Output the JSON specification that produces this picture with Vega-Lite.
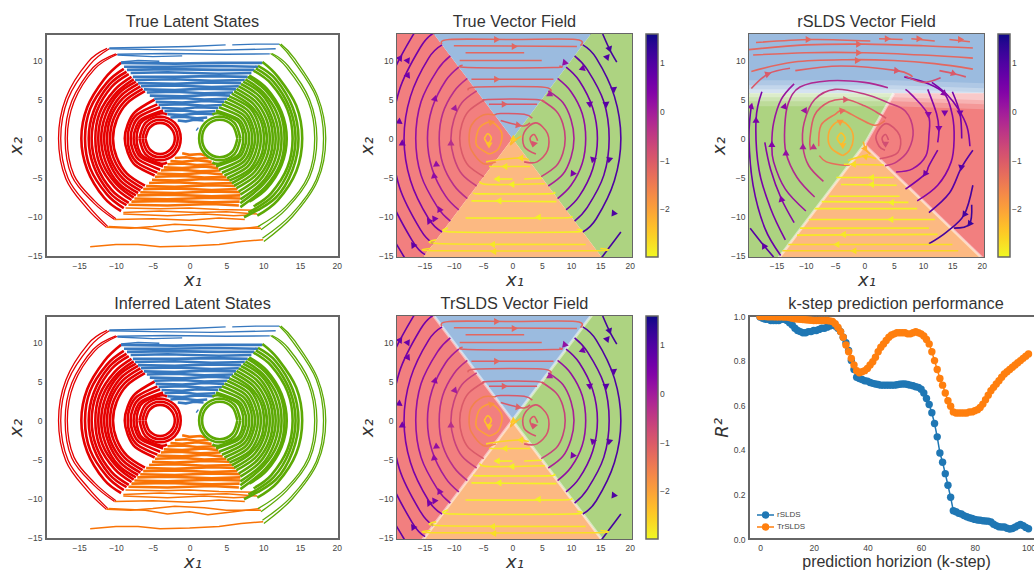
{"$schema":"https://vega.github.io/schema/vega-lite/v6.json","padding":{"left":6,"top":12,"right":0,"bottom":0},"background":"white",
"config":{"view":{"stroke":"#666666","strokeWidth":2},"font":"Liberation Sans","title":{"fontSize":16.3,"font":"Liberation Sans","fontWeight":"normal","color":"#333333","offset":4},"axis":{"grid":false,"domain":false,"ticks":false,"labelFontSize":8.5,"labelColor":"#444444","labelPadding":4,"titleColor":"#333333","titleFontWeight":"normal","titleFont":"DejaVu Sans","titleFontStyle":"italic","titleFontSize":18,"titlePadding":2,"labelFont":"Liberation Sans"}},
"datasets":{
"red":[{"i":1,"x":-6,"y":0},{"i":1,"x":-5.4,"y":1.4},{"i":1,"x":-4,"y":2},{"i":1,"x":-2.6,"y":1.4},{"i":1,"x":-2,"y":0},{"i":1,"x":-2.6,"y":-1.4},{"i":1,"x":-4,"y":-2},{"i":1,"x":-5.4,"y":-1.4},{"i":1,"x":-6,"y":0},
{"i":2,"x":-6.4,"y":0},{"i":2,"x":-5.7,"y":1.7},{"i":2,"x":-4,"y":2.4},{"i":2,"x":-2.3,"y":1.7},{"i":2,"x":-1.6,"y":0},{"i":2,"x":-2.3,"y":-1.7},{"i":2,"x":-4,"y":-2.4},{"i":2,"x":-5.7,"y":-1.7},{"i":2,"x":-6.4,"y":0},
{"i":3,"x":-6.8,"y":0},{"i":3,"x":-6,"y":2},{"i":3,"x":-4,"y":2.8},{"i":3,"x":-2,"y":2},{"i":3,"x":-1.2,"y":0},{"i":3,"x":-2,"y":-2},{"i":3,"x":-4,"y":-2.8},{"i":3,"x":-6,"y":-2},{"i":3,"x":-6.8,"y":0},
{"i":4,"x":-3.06,"y":-3.06},{"i":4,"x":-4,"y":-3.2},{"i":4,"x":-6.3,"y":-2.3},{"i":4,"x":-7,"y":-1.2},{"i":4,"x":-7.2,"y":0},{"i":4,"x":-7,"y":1.2},{"i":4,"x":-6.3,"y":2.3},{"i":4,"x":-4,"y":3.2},{"i":4,"x":-3.06,"y":3.06},
{"i":5,"x":-3.6,"y":-3.6},{"i":5,"x":-6.5,"y":-2.5},{"i":5,"x":-7.3,"y":-1.35},{"i":5,"x":-7.6,"y":0},{"i":5,"x":-7.3,"y":1.35},{"i":5,"x":-6.5,"y":2.5},{"i":5,"x":-3.6,"y":3.6},
{"i":6,"x":-4,"y":-4},{"i":6,"x":-6.8,"y":-2.8},{"i":6,"x":-7.7,"y":-1.5},{"i":6,"x":-8,"y":0},{"i":6,"x":-7.7,"y":1.5},{"i":6,"x":-6.8,"y":2.8},{"i":6,"x":-4,"y":4},
{"i":7,"x":-4.38,"y":-4.38},{"i":7,"x":-7.1,"y":-3.1},{"i":7,"x":-8.1,"y":-1.65},{"i":7,"x":-8.4,"y":0},{"i":7,"x":-8.1,"y":1.65},{"i":7,"x":-7.1,"y":3.1},{"i":7,"x":-4.38,"y":4.38},
{"i":8,"x":-4.74,"y":-4.74},{"i":8,"x":-7.4,"y":-3.4},{"i":8,"x":-8.4,"y":-1.8},{"i":8,"x":-8.8,"y":0},{"i":8,"x":-8.4,"y":1.8},{"i":8,"x":-7.4,"y":3.4},{"i":8,"x":-4.74,"y":5},
{"i":9,"x":-6.06,"y":-6.06},{"i":9,"x":-8.5,"y":-4.5},{"i":9,"x":-9.9,"y":-2.4},{"i":9,"x":-10.4,"y":0},{"i":9,"x":-9.9,"y":2.4},{"i":9,"x":-8.5,"y":4.5},{"i":9,"x":-6.06,"y":6.06},
{"i":10,"x":-6.37,"y":-6.37},{"i":10,"x":-8.8,"y":-4.8},{"i":10,"x":-10.3,"y":-2.55},{"i":10,"x":-10.8,"y":0},{"i":10,"x":-10.3,"y":2.55},{"i":10,"x":-8.8,"y":4.8},{"i":10,"x":-6.37,"y":6.37},
{"i":11,"x":-6.68,"y":-6.68},{"i":11,"x":-9.1,"y":-5.1},{"i":11,"x":-10.7,"y":-2.7},{"i":11,"x":-11.2,"y":0},{"i":11,"x":-10.7,"y":2.7},{"i":11,"x":-9.1,"y":5.1},{"i":11,"x":-6.68,"y":6.68},
{"i":12,"x":-6.99,"y":-6.99},{"i":12,"x":-9.4,"y":-5.4},{"i":12,"x":-11,"y":-2.85},{"i":12,"x":-11.6,"y":0},{"i":12,"x":-11,"y":2.85},{"i":12,"x":-9.4,"y":5.4},{"i":12,"x":-6.99,"y":6.99},
{"i":13,"x":-7.29,"y":-7.29},{"i":13,"x":-9.7,"y":-5.7},{"i":13,"x":-11.4,"y":-3},{"i":13,"x":-12,"y":0},{"i":13,"x":-11.4,"y":3},{"i":13,"x":-9.7,"y":5.7},{"i":13,"x":-7.29,"y":7.29},
{"i":14,"x":-7.59,"y":-7.59},{"i":14,"x":-9.9,"y":-5.9},{"i":14,"x":-11.8,"y":-3.15},{"i":14,"x":-12.4,"y":0},{"i":14,"x":-11.8,"y":3.15},{"i":14,"x":-9.9,"y":5.9},{"i":14,"x":-7.59,"y":7.59},
{"i":15,"x":-7.89,"y":-7.89},{"i":15,"x":-10.2,"y":-6.2},{"i":15,"x":-12.2,"y":-3.3},{"i":15,"x":-12.8,"y":0},{"i":15,"x":-12.2,"y":3.3},{"i":15,"x":-10.2,"y":6.2},{"i":15,"x":-7.89,"y":7.89},
{"i":16,"x":-8.26,"y":-8.26},{"i":16,"x":-10.6,"y":-6.6},{"i":16,"x":-12.6,"y":-3.5},{"i":16,"x":-13.3,"y":0},{"i":16,"x":-12.6,"y":3.5},{"i":16,"x":-10.6,"y":6.6},{"i":16,"x":-8.26,"y":8.26},
{"i":17,"x":-8.56,"y":-8.56},{"i":17,"x":-10.9,"y":-6.9},{"i":17,"x":-13,"y":-3.6},{"i":17,"x":-13.7,"y":0},{"i":17,"x":-13,"y":3.6},{"i":17,"x":-10.9,"y":6.9},{"i":17,"x":-8.56,"y":8.56},
{"i":18,"x":-8.93,"y":-8.93},{"i":18,"x":-11.2,"y":-7.2},{"i":18,"x":-13.5,"y":-3.8},{"i":18,"x":-14.2,"y":0},{"i":18,"x":-13.5,"y":3.8},{"i":18,"x":-11.2,"y":7.2},{"i":18,"x":-8.93,"y":8.93},
{"i":19,"x":-9.3,"y":-9.3},{"i":19,"x":-11.6,"y":-7.6},{"i":19,"x":-13.9,"y":-4},{"i":19,"x":-14.7,"y":0},{"i":19,"x":-13.9,"y":4},{"i":19,"x":-11.6,"y":7.6},{"i":19,"x":-9.3,"y":9.7},
{"i":20,"x":-10,"y":-10.3},{"i":20,"x":-12.9,"y":-8},{"i":20,"x":-15.7,"y":-4.7},{"i":20,"x":-16.6,"y":0},{"i":20,"x":-15.7,"y":4.7},{"i":20,"x":-12.9,"y":8.9},{"i":20,"x":-9.8,"y":10.8},
{"i":21,"x":-10.2,"y":-10.4},{"i":21,"x":-13.1,"y":-8.2},{"i":21,"x":-16,"y":-4.8},{"i":21,"x":-16.9,"y":0},{"i":21,"x":-16,"y":4.8},{"i":21,"x":-13.1,"y":9.1},{"i":21,"x":-10,"y":10.85},
{"i":22,"x":-11.1,"y":-11.3},{"i":22,"x":-13.7,"y":-8.7},{"i":22,"x":-16.5,"y":-5.1},{"i":22,"x":-17.5,"y":0},{"i":22,"x":-16.5,"y":5.1},{"i":22,"x":-13.5,"y":9.5},{"i":22,"x":-10.9,"y":11.5},
{"i":23,"x":-11.3,"y":-11.4},{"i":23,"x":-14,"y":-8.9},{"i":23,"x":-16.8,"y":-5.2},{"i":23,"x":-17.8,"y":0},{"i":23,"x":-16.8,"y":5.2},{"i":23,"x":-13.8,"y":9.8},{"i":23,"x":-11.2,"y":11.55}],
"green":[{"i":1,"x":6.5,"y":0},{"i":1,"x":5.8,"y":1.7},{"i":1,"x":4.1,"y":2.4},{"i":1,"x":2.4,"y":1.7},{"i":1,"x":1.7,"y":0},{"i":1,"x":2.4,"y":-1.7},{"i":1,"x":4.1,"y":-2.4},{"i":1,"x":5.8,"y":-1.7},{"i":1,"x":6.5,"y":0},
{"i":2,"x":6.9,"y":0},{"i":2,"x":6.1,"y":2},{"i":2,"x":4.1,"y":2.8},{"i":2,"x":2.1,"y":2},{"i":2,"x":1.3,"y":0},{"i":2,"x":2.1,"y":-2},{"i":2,"x":4.1,"y":-2.8},{"i":2,"x":6.1,"y":-2},{"i":2,"x":6.9,"y":0},
{"i":3,"x":3.1,"y":-3.06},{"i":3,"x":4.1,"y":-3.2},{"i":3,"x":6.4,"y":-2.3},{"i":3,"x":7.1,"y":-1.2},{"i":3,"x":7.3,"y":0},{"i":3,"x":7.1,"y":1.2},{"i":3,"x":6.4,"y":2.3},{"i":3,"x":4.1,"y":3.2},{"i":3,"x":3.1,"y":3.06},
{"i":4,"x":3.6,"y":-3.6},{"i":4,"x":6.6,"y":-2.5},{"i":4,"x":7.4,"y":-1.35},{"i":4,"x":7.7,"y":0},{"i":4,"x":7.4,"y":1.35},{"i":4,"x":6.6,"y":2.5},{"i":4,"x":3.6,"y":3.6},
{"i":5,"x":4,"y":-4},{"i":5,"x":6.9,"y":-2.8},{"i":5,"x":7.8,"y":-1.5},{"i":5,"x":8.1,"y":0},{"i":5,"x":7.8,"y":1.5},{"i":5,"x":6.9,"y":2.8},{"i":5,"x":4,"y":4},
{"i":6,"x":4.4,"y":-4.4},{"i":6,"x":7.2,"y":-3.1},{"i":6,"x":8.2,"y":-1.65},{"i":6,"x":8.5,"y":0},{"i":6,"x":8.2,"y":1.65},{"i":6,"x":7.2,"y":3.1},{"i":6,"x":4.4,"y":4.4},
{"i":7,"x":4.74,"y":-4.74},{"i":7,"x":7.5,"y":-3.4},{"i":7,"x":8.5,"y":-1.8},{"i":7,"x":8.9,"y":0},{"i":7,"x":8.5,"y":1.8},{"i":7,"x":7.5,"y":3.4},{"i":7,"x":4.74,"y":4.74},
{"i":8,"x":5.1,"y":-5.1},{"i":8,"x":7.8,"y":-3.7},{"i":8,"x":8.9,"y":-1.95},{"i":8,"x":9.3,"y":0},{"i":8,"x":8.9,"y":1.95},{"i":8,"x":7.8,"y":3.7},{"i":8,"x":5.1,"y":5.1},
{"i":9,"x":5.4,"y":-5.4},{"i":9,"x":8.1,"y":-4},{"i":9,"x":9.3,"y":-2.1},{"i":9,"x":9.7,"y":0},{"i":9,"x":9.3,"y":2.1},{"i":9,"x":8.1,"y":4},{"i":9,"x":5.4,"y":5.4},
{"i":10,"x":5.74,"y":-5.74},{"i":10,"x":8.3,"y":-4.2},{"i":10,"x":9.7,"y":-2.25},{"i":10,"x":10.1,"y":0},{"i":10,"x":9.7,"y":2.25},{"i":10,"x":8.3,"y":4.2},{"i":10,"x":5.74,"y":5.74},
{"i":11,"x":6.06,"y":-6.06},{"i":11,"x":8.6,"y":-4.5},{"i":11,"x":10,"y":-2.4},{"i":11,"x":10.5,"y":0},{"i":11,"x":10,"y":2.4},{"i":11,"x":8.6,"y":4.5},{"i":11,"x":6.06,"y":6.06},
{"i":12,"x":6.37,"y":-6.37},{"i":12,"x":8.9,"y":-4.8},{"i":12,"x":10.4,"y":-2.55},{"i":12,"x":10.9,"y":0},{"i":12,"x":10.4,"y":2.55},{"i":12,"x":8.9,"y":4.8},{"i":12,"x":6.37,"y":6.37},
{"i":13,"x":6.68,"y":-6.8},{"i":13,"x":9.2,"y":-5.1},{"i":13,"x":10.8,"y":-2.7},{"i":13,"x":11.3,"y":0},{"i":13,"x":10.8,"y":2.7},{"i":13,"x":9.2,"y":5.1},{"i":13,"x":6.68,"y":6.68},
{"i":14,"x":6.9,"y":-7.2},{"i":14,"x":9.5,"y":-5.4},{"i":14,"x":11.1,"y":-2.85},{"i":14,"x":11.7,"y":0},{"i":14,"x":11.1,"y":2.85},{"i":14,"x":9.5,"y":5.4},{"i":14,"x":6.99,"y":6.99},
{"i":15,"x":6.9,"y":-7.8},{"i":15,"x":9.8,"y":-5.7},{"i":15,"x":11.5,"y":-3},{"i":15,"x":12.1,"y":0},{"i":15,"x":11.5,"y":3},{"i":15,"x":9.8,"y":5.7},{"i":15,"x":7.29,"y":7.29},
{"i":16,"x":6.9,"y":-8.3},{"i":16,"x":10,"y":-5.9},{"i":16,"x":11.9,"y":-3.15},{"i":16,"x":12.5,"y":0},{"i":16,"x":11.9,"y":3.15},{"i":16,"x":10,"y":5.9},{"i":16,"x":7.59,"y":7.59},
{"i":17,"x":6.9,"y":-8.8},{"i":17,"x":10.3,"y":-6.2},{"i":17,"x":12.3,"y":-3.3},{"i":17,"x":12.9,"y":0},{"i":17,"x":12.3,"y":3.3},{"i":17,"x":10.3,"y":6.2},{"i":17,"x":7.89,"y":7.89},
{"i":18,"x":8.1,"y":-8.1},{"i":18,"x":10.5,"y":-6.4},{"i":18,"x":12.5,"y":-3.4},{"i":18,"x":13.2,"y":0},{"i":18,"x":12.5,"y":3.4},{"i":18,"x":10.5,"y":6.4},{"i":18,"x":8.1,"y":8.1},
{"i":19,"x":8.7,"y":-8.7},{"i":19,"x":11.1,"y":-7},{"i":19,"x":13.3,"y":-3.7},{"i":19,"x":14,"y":0},{"i":19,"x":13.3,"y":3.7},{"i":19,"x":11.1,"y":7},{"i":19,"x":8.7,"y":8.7},
{"i":20,"x":8,"y":-9.5},{"i":20,"x":11.4,"y":-7.3},{"i":20,"x":13.6,"y":-3.9},{"i":20,"x":14.4,"y":0},{"i":20,"x":13.6,"y":3.9},{"i":20,"x":11.4,"y":7.3},{"i":20,"x":9,"y":9},
{"i":21,"x":7.4,"y":-10.1},{"i":21,"x":11.7,"y":-7.6},{"i":21,"x":14,"y":-4},{"i":21,"x":14.8,"y":0},{"i":21,"x":14,"y":4},{"i":21,"x":11.7,"y":7.6},{"i":21,"x":9.3,"y":9.3},
{"i":22,"x":9.2,"y":-9.9},{"i":22,"x":12,"y":-7.9},{"i":22,"x":14.5,"y":-4.2},{"i":22,"x":15.3,"y":0},{"i":22,"x":14.5,"y":4.2},{"i":22,"x":12,"y":7.9},{"i":22,"x":9.9,"y":9.8},
{"i":23,"x":9.3,"y":-11.3},{"i":23,"x":13,"y":-8.8},{"i":23,"x":16.1,"y":-4.8},{"i":23,"x":17,"y":0},{"i":23,"x":16.1,"y":4.8},{"i":23,"x":13.2,"y":9.1},{"i":23,"x":11,"y":10.9},
{"i":24,"x":9.7,"y":-11.7},{"i":24,"x":13.2,"y":-9},{"i":24,"x":16.3,"y":-5},{"i":24,"x":17.3,"y":0},{"i":24,"x":16.3,"y":5},{"i":24,"x":13.4,"y":9.3},{"i":24,"x":11.2,"y":10.9},
{"i":25,"x":9.9,"y":-12.8},{"i":25,"x":13.8,"y":-9.8},{"i":25,"x":17.2,"y":-5.3},{"i":25,"x":18.2,"y":0},{"i":25,"x":17.2,"y":5.3},{"i":25,"x":14.1,"y":10},{"i":25,"x":12.2,"y":12.1},
{"i":26,"x":10.1,"y":-13.2},{"i":26,"x":14,"y":-10},{"i":26,"x":17.4,"y":-5.4},{"i":26,"x":18.5,"y":0},{"i":26,"x":17.4,"y":5.4},{"i":26,"x":14.3,"y":10.2},{"i":26,"x":12.4,"y":12.1}],
"blue":[{"i":1,"x":-1.6,"y":2.3},{"i":1,"x":-0.5,"y":2.2},{"i":1,"x":0.6,"y":2.4},{"i":1,"x":1.9,"y":2.3},{"i":2,"x":-2.6,"y":2.7},{"i":2,"x":-1,"y":2.8},{"i":2,"x":1,"y":2.6},{"i":2,"x":2.4,"y":2.7},{"i":3,"x":-3,"y":3.1},{"i":3,"x":-1,"y":3},{"i":3,"x":1,"y":3.2},{"i":3,"x":3.2,"y":3.1},{"i":4,"x":-3.4,"y":3.5},{"i":4,"x":-1,"y":3.6},{"i":4,"x":1,"y":3.4},{"i":4,"x":3.5,"y":3.5},{"i":5,"x":-3.8,"y":3.9},{"i":5,"x":-1,"y":3.8},{"i":5,"x":1,"y":4},{"i":5,"x":3.9,"y":3.9},{"i":6,"x":-4.2,"y":4.3},{"i":6,"x":-1,"y":4.4},{"i":6,"x":2,"y":4.2},{"i":6,"x":4.4,"y":4.3},{"i":7,"x":-4.6,"y":4.7},{"i":7,"x":-1,"y":4.6},{"i":7,"x":2,"y":4.8},{"i":7,"x":4.7,"y":4.7},{"i":8,"x":-4.8,"y":5.1},{"i":8,"x":-1,"y":5.2},{"i":8,"x":2,"y":5},{"i":8,"x":5.1,"y":5.1},{"i":9,"x":-5.4,"y":5.5},{"i":9,"x":-1,"y":5.4},{"i":9,"x":3,"y":5.6},{"i":9,"x":5.5,"y":5.5},{"i":10,"x":-5.8,"y":5.9},{"i":10,"x":-2,"y":6},{"i":10,"x":2,"y":5.8},{"i":10,"x":5.9,"y":5.9},{"i":11,"x":-6.2,"y":6.3},{"i":11,"x":-2,"y":6.2},{"i":11,"x":2,"y":6.4},{"i":11,"x":6.3,"y":6.3},{"i":12,"x":-6.6,"y":6.7},{"i":12,"x":-2,"y":6.8},{"i":12,"x":3,"y":6.6},{"i":12,"x":6.7,"y":6.7},{"i":13,"x":-7,"y":7.1},{"i":13,"x":-2,"y":7},{"i":13,"x":3,"y":7.2},{"i":13,"x":7,"y":7.1},{"i":14,"x":-7.4,"y":7.5},{"i":14,"x":-2,"y":7.6},{"i":14,"x":3,"y":7.4},{"i":14,"x":7.5,"y":7.5},{"i":15,"x":-7.7,"y":7.9},{"i":15,"x":-2,"y":7.9},{"i":15,"x":3,"y":8},{"i":15,"x":7.9,"y":7.9},{"i":16,"x":-8,"y":8.4},{"i":16,"x":-3,"y":8.5},{"i":16,"x":4,"y":8.3},{"i":16,"x":8.4,"y":8.4},{"i":17,"x":-8.5,"y":8.8},{"i":17,"x":-3,"y":8.9},{"i":17,"x":4,"y":8.8},{"i":17,"x":8.8,"y":8.8},{"i":18,"x":-8.9,"y":9.2},{"i":18,"x":-3,"y":9.2},{"i":18,"x":4,"y":9.3},{"i":18,"x":9.3,"y":9.2},{"i":19,"x":-9.3,"y":9.7},{"i":19,"x":-2,"y":9.6},{"i":19,"x":4,"y":9.7},{"i":19,"x":9.9,"y":9.7},{"i":20,"x":-9.3,"y":9.8},{"i":20,"x":-7,"y":10},{"i":20,"x":-4.1,"y":9.9},{"i":21,"x":-9.8,"y":10.8},{"i":21,"x":-3,"y":10.9},{"i":21,"x":5,"y":10.8},{"i":21,"x":10.9,"y":10.85},{"i":22,"x":-9.8,"y":10.7},{"i":22,"x":-5,"y":10.5},{"i":22,"x":-1,"y":10.6},{"i":23,"x":-10.9,"y":11.5},{"i":23,"x":-5,"y":11.4},{"i":23,"x":3,"y":11.3},{"i":23,"x":11.7,"y":11.5},{"i":24,"x":-10.9,"y":11.6},{"i":24,"x":-5,"y":11.7},{"i":24,"x":0,"y":11.8},{"i":24,"x":4.9,"y":12},{"i":25,"x":5.8,"y":12},{"i":25,"x":9,"y":12.1},{"i":25,"x":12.2,"y":12.1},{"i":26,"x":0.9,"y":1},{"i":26,"x":1.2,"y":1.4}],
"orange":[{"i":1,"x":-1,"y":-1.9},{"i":1,"x":0,"y":-2.1},{"i":1,"x":1.5,"y":-2},{"i":1,"x":2.2,"y":-2.2},{"i":2,"x":-2,"y":-2.5},{"i":2,"x":-0.5,"y":-2.4},{"i":2,"x":1,"y":-2.6},{"i":2,"x":2.6,"y":-2.5},{"i":3,"x":-2.6,"y":-2.9},{"i":3,"x":-1,"y":-3},{"i":3,"x":1,"y":-2.8},{"i":3,"x":3,"y":-3},{"i":4,"x":-3,"y":-3.3},{"i":4,"x":-1,"y":-3.2},{"i":4,"x":1,"y":-3.4},{"i":4,"x":3.5,"y":-3.3},{"i":5,"x":-3.5,"y":-3.7},{"i":5,"x":-1,"y":-3.8},{"i":5,"x":2,"y":-3.6},{"i":5,"x":3.9,"y":-3.8},{"i":6,"x":-3.9,"y":-4.1},{"i":6,"x":-1.5,"y":-4},{"i":6,"x":1.5,"y":-4.2},{"i":6,"x":4.2,"y":-4.1},{"i":7,"x":-4.4,"y":-4.5},{"i":7,"x":-1,"y":-4.6},{"i":7,"x":2,"y":-4.4},{"i":7,"x":4.5,"y":-4.6},{"i":8,"x":-4.7,"y":-4.9},{"i":8,"x":-1,"y":-4.8},{"i":8,"x":2,"y":-5},{"i":8,"x":5,"y":-4.9},{"i":9,"x":-5.1,"y":-5.3},{"i":9,"x":-2,"y":-5.4},{"i":9,"x":2,"y":-5.2},{"i":9,"x":5.4,"y":-5.3},{"i":10,"x":-5.5,"y":-5.7},{"i":10,"x":-2,"y":-5.6},{"i":10,"x":2,"y":-5.8},{"i":10,"x":5.8,"y":-5.7},{"i":11,"x":-5.9,"y":-6.1},{"i":11,"x":-2,"y":-6.2},{"i":11,"x":3,"y":-6},{"i":11,"x":6.2,"y":-6.1},{"i":12,"x":-6.3,"y":-6.5},{"i":12,"x":-2,"y":-6.4},{"i":12,"x":3,"y":-6.6},{"i":12,"x":6.5,"y":-6.5},{"i":13,"x":-6.7,"y":-6.9},{"i":13,"x":-2,"y":-7},{"i":13,"x":3,"y":-6.8},{"i":13,"x":6.9,"y":-6.9},{"i":14,"x":-7.1,"y":-7.3},{"i":14,"x":-3,"y":-7.2},{"i":14,"x":3,"y":-7.4},{"i":14,"x":6.9,"y":-7.3},{"i":15,"x":-7.5,"y":-7.7},{"i":15,"x":-3,"y":-7.8},{"i":15,"x":3,"y":-7.6},{"i":15,"x":6.9,"y":-7.7},{"i":16,"x":-7.9,"y":-8.1},{"i":16,"x":-3,"y":-8},{"i":16,"x":3,"y":-8.2},{"i":16,"x":6.8,"y":-8.1},{"i":17,"x":-8.3,"y":-8.5},{"i":17,"x":-3,"y":-8.6},{"i":17,"x":3,"y":-8.4},{"i":17,"x":6.7,"y":-8.6},{"i":18,"x":-8.7,"y":-8.9},{"i":18,"x":-4,"y":-9},{"i":18,"x":0,"y":-8.9},{"i":18,"x":4,"y":-9.1},{"i":18,"x":9.5,"y":-9.2},{"i":19,"x":-9,"y":-9.5},{"i":19,"x":-4,"y":-9.3},{"i":19,"x":1,"y":-9.5},{"i":19,"x":5,"y":-9.4},{"i":19,"x":9.2,"y":-9.7},{"i":20,"x":-9,"y":-9.7},{"i":20,"x":-3,"y":-9.9},{"i":20,"x":2,"y":-9.7},{"i":20,"x":6,"y":-9.9},{"i":20,"x":8,"y":-9.8},{"i":21,"x":-10.2,"y":-10.4},{"i":21,"x":-5,"y":-10.3},{"i":21,"x":0,"y":-10.5},{"i":21,"x":4,"y":-10.2},{"i":21,"x":7.5,"y":-10.4},{"i":22,"x":-11.3,"y":-11.4},{"i":22,"x":-8,"y":-11.5},{"i":22,"x":-5,"y":-11.3},{"i":22,"x":-2,"y":-11},{"i":22,"x":2,"y":-11.2},{"i":22,"x":5,"y":-11.5},{"i":22,"x":9.7,"y":-11.5},{"i":23,"x":-11,"y":-11.3},{"i":23,"x":-6,"y":-11.5},{"i":23,"x":-3,"y":-12},{"i":23,"x":0,"y":-11.7},{"i":23,"x":2.5,"y":-12.1},{"i":23,"x":6,"y":-11.7},{"i":23,"x":9.5,"y":-11.3},{"i":24,"x":-13.5,"y":-13.9},{"i":24,"x":-10,"y":-13.6},{"i":24,"x":-7,"y":-13.6},{"i":24,"x":-4,"y":-13.9},{"i":24,"x":0,"y":-13.8},{"i":24,"x":4,"y":-13.6},{"i":24,"x":7,"y":-13.2},{"i":24,"x":10,"y":-13}],
"field":[{"i":1,"c":-2.4,"x":-4.8,"y":0},{"i":1,"c":-2.4,"x":-4.2,"y":0.6},{"i":1,"c":-2.4,"x":-3.6,"y":0},{"i":1,"c":-2.4,"x":-4.2,"y":-0.6},{"i":1,"c":-2.4,"x":-4.8,"y":0},
{"i":2,"c":-2,"x":-4,"y":-2},{"i":2,"c":-2,"x":-6,"y":-1},{"i":2,"c":-2,"x":-6.2,"y":0},{"i":2,"c":-2,"x":-5.5,"y":1.5},{"i":2,"c":-2,"x":-3.6,"y":2.1},{"i":2,"c":-2,"x":-2,"y":1},{"i":2,"c":-2,"x":-1.8,"y":0},{"i":2,"c":-2,"x":-2.5,"y":-1.4},{"i":2,"c":-2,"x":-4,"y":-2},
{"i":3,"c":-1.6,"x":-2.8,"y":-3},{"i":3,"c":-1.6,"x":-5,"y":-3.2},{"i":3,"c":-1.6,"x":-7,"y":-1.5},{"i":3,"c":-1.6,"x":-7.4,"y":0},{"i":3,"c":-1.6,"x":-7,"y":1.7},{"i":3,"c":-1.6,"x":-5,"y":3},{"i":3,"c":-1.6,"x":-3,"y":3},
{"i":4,"c":-1,"x":-4.9,"y":-4.9},{"i":4,"c":-1,"x":-7.5,"y":-3.5},{"i":4,"c":-1,"x":-8.6,"y":-1.9},{"i":4,"c":-1,"x":-9,"y":0},{"i":4,"c":-1,"x":-8.6,"y":1.9},{"i":4,"c":-1,"x":-7.5,"y":3.5},{"i":4,"c":-1,"x":-4.9,"y":4.9},
{"i":5,"c":-0.6,"x":-6.1,"y":-6.1},{"i":5,"c":-0.6,"x":-8.6,"y":-4.6},{"i":5,"c":-0.6,"x":-10,"y":-2.4},{"i":5,"c":-0.6,"x":-10.5,"y":0},{"i":5,"c":-0.6,"x":-10,"y":2.4},{"i":5,"c":-0.6,"x":-8.6,"y":4.6},{"i":5,"c":-0.6,"x":-6.1,"y":6.1},
{"i":6,"c":-0.3,"x":-7.7,"y":-7.7},{"i":6,"c":-0.3,"x":-10,"y":-6},{"i":6,"c":-0.3,"x":-11.9,"y":-3.2},{"i":6,"c":-0.3,"x":-12.5,"y":0},{"i":6,"c":-0.3,"x":-11.9,"y":3.2},{"i":6,"c":-0.3,"x":-10,"y":6},{"i":6,"c":-0.3,"x":-7.7,"y":7.7},
{"i":7,"c":0,"x":-9.15,"y":-9.15},{"i":7,"c":0,"x":-11.4,"y":-7.4},{"i":7,"c":0,"x":-13.7,"y":-3.9},{"i":7,"c":0,"x":-14.5,"y":0},{"i":7,"c":0,"x":-13.7,"y":3.9},{"i":7,"c":0,"x":-11.4,"y":7.4},{"i":7,"c":0,"x":-9.15,"y":9.15},
{"i":8,"c":0.2,"x":-10.6,"y":-10.6},{"i":8,"c":0.2,"x":-12.8,"y":-8.8},{"i":8,"c":0.2,"x":-15.6,"y":-4.7},{"i":8,"c":0.2,"x":-16.5,"y":0},{"i":8,"c":0.2,"x":-15.6,"y":4.7},{"i":8,"c":0.2,"x":-12.8,"y":8.8},{"i":8,"c":0.2,"x":-10.6,"y":10.6},
{"i":9,"c":0.5,"x":-12,"y":-12},{"i":9,"c":0.5,"x":-14.3,"y":-10.3},{"i":9,"c":0.5,"x":-17.4,"y":-5.4},{"i":9,"c":0.5,"x":-18.5,"y":0},{"i":9,"c":0.5,"x":-17.4,"y":5.4},{"i":9,"c":0.5,"x":-14.3,"y":10.3},{"i":9,"c":0.5,"x":-12,"y":12},
{"i":10,"c":0.6,"x":-13.5,"y":-13.5},{"i":10,"c":0.6,"x":-15.7,"y":-11.7},{"i":10,"c":0.6,"x":-19.3,"y":-6.2},{"i":10,"c":0.6,"x":-20.5,"y":0},{"i":10,"c":0.6,"x":-19.3,"y":6.2},{"i":10,"c":0.6,"x":-15.7,"y":11.7},{"i":10,"c":0.6,"x":-13.5,"y":13.5},
{"i":11,"c":0.7,"x":-14.9,"y":-14.9},{"i":11,"c":0.7,"x":-17.1,"y":-13.1},{"i":11,"c":0.7,"x":-21.2,"y":-6.9},{"i":11,"c":0.7,"x":-22.5,"y":0},{"i":11,"c":0.7,"x":-21.2,"y":6.9},{"i":11,"c":0.7,"x":-17.1,"y":13.1},{"i":11,"c":0.7,"x":-14.9,"y":14.9},
{"i":12,"c":0.8,"x":-16.7,"y":-16.7},{"i":12,"c":0.8,"x":-18.8,"y":-14.8},{"i":12,"c":0.8,"x":-23.5,"y":-7.9},{"i":12,"c":0.8,"x":-25,"y":0},{"i":12,"c":0.8,"x":-23.5,"y":7.9},{"i":12,"c":0.8,"x":-18.8,"y":14.8},{"i":12,"c":0.8,"x":-16.7,"y":16.7},
{"i":13,"c":-1,"x":3.5,"y":-1},{"i":13,"c":-1,"x":3,"y":0},{"i":13,"c":-1,"x":3.7,"y":0.5},{"i":13,"c":-1,"x":4.3,"y":-0.3},
{"i":14,"c":-0.9,"x":4,"y":-2},{"i":14,"c":-0.9,"x":2,"y":-1},{"i":14,"c":-0.9,"x":2,"y":0.8},{"i":14,"c":-0.9,"x":4,"y":2},{"i":14,"c":-0.9,"x":6,"y":0.6},{"i":14,"c":-0.9,"x":6,"y":-1.5},{"i":14,"c":-0.9,"x":4.2,"y":-3},{"i":14,"c":-0.9,"x":2,"y":-3},
{"i":15,"c":-0.6,"x":5,"y":4.9},{"i":15,"c":-0.6,"x":7.5,"y":3.5},{"i":15,"c":-0.6,"x":8.6,"y":1.9},{"i":15,"c":-0.6,"x":9,"y":0},{"i":15,"c":-0.6,"x":8.6,"y":-1.9},{"i":15,"c":-0.6,"x":7.5,"y":-3.5},{"i":15,"c":-0.6,"x":4.9,"y":-4.9},
{"i":16,"c":-0.1,"x":6.1,"y":6.1},{"i":16,"c":-0.1,"x":8.6,"y":4.6},{"i":16,"c":-0.1,"x":10,"y":2.4},{"i":16,"c":-0.1,"x":10.5,"y":0},{"i":16,"c":-0.1,"x":10,"y":-2.4},{"i":16,"c":-0.1,"x":8.6,"y":-4.6},{"i":16,"c":-0.1,"x":6.1,"y":-6.1},
{"i":17,"c":0.2,"x":7.7,"y":7.7},{"i":17,"c":0.2,"x":10,"y":6},{"i":17,"c":0.2,"x":11.9,"y":3.2},{"i":17,"c":0.2,"x":12.5,"y":0},{"i":17,"c":0.2,"x":11.9,"y":-3.2},{"i":17,"c":0.2,"x":10,"y":-6},{"i":17,"c":0.2,"x":7.7,"y":-7.7},
{"i":18,"c":0.6,"x":9.15,"y":9.15},{"i":18,"c":0.6,"x":11.4,"y":7.4},{"i":18,"c":0.6,"x":13.7,"y":3.9},{"i":18,"c":0.6,"x":14.5,"y":0},{"i":18,"c":0.6,"x":13.7,"y":-3.9},{"i":18,"c":0.6,"x":11.4,"y":-7.4},{"i":18,"c":0.6,"x":9.15,"y":-9.15},
{"i":19,"c":0.8,"x":10.6,"y":10.6},{"i":19,"c":0.8,"x":12.8,"y":8.8},{"i":19,"c":0.8,"x":15.6,"y":4.7},{"i":19,"c":0.8,"x":16.5,"y":0},{"i":19,"c":0.8,"x":15.6,"y":-4.7},{"i":19,"c":0.8,"x":12.8,"y":-8.8},{"i":19,"c":0.8,"x":10.6,"y":-10.6},
{"i":20,"c":1,"x":12,"y":12},{"i":20,"c":1,"x":14.3,"y":10.3},{"i":20,"c":1,"x":17.4,"y":5.4},{"i":20,"c":1,"x":18.5,"y":0},{"i":20,"c":1,"x":17.4,"y":-5.4},{"i":20,"c":1,"x":14.3,"y":-10.3},{"i":20,"c":1,"x":12,"y":-12},
{"i":21,"c":1.1,"x":15,"y":-15.5},{"i":21,"c":1.1,"x":17,"y":-13.5},{"i":21,"c":1.1,"x":18.5,"y":-12},
{"i":22,"c":1.1,"x":15.4,"y":13.4},{"i":22,"c":1.1,"x":16.6,"y":11.4},{"i":22,"c":1.1,"x":17.8,"y":9.8},
{"i":30,"c":-1.2,"x":-12,"y":12.1},{"i":30,"c":-1.2,"x":-10.8,"y":12.7},{"i":30,"c":-1.2,"x":0,"y":12.7},{"i":30,"c":-1.2,"x":10.8,"y":12.7},{"i":30,"c":-1.2,"x":11.6,"y":11.9},
{"i":31,"c":-1.2,"x":-10,"y":11.9},{"i":31,"c":-1.2,"x":11,"y":11.8},
{"i":32,"c":-1.2,"x":-8,"y":11},{"i":32,"c":-1.2,"x":2,"y":11},
{"i":33,"c":-1.2,"x":-9,"y":10},{"i":33,"c":-1.2,"x":5,"y":10},
{"i":34,"c":-1.1,"x":-8.5,"y":9.4},{"i":34,"c":-1.1,"x":-7.6,"y":9.1},{"i":34,"c":-1.1,"x":7,"y":9.1},{"i":34,"c":-1.1,"x":8,"y":9.3},
{"i":35,"c":-1.1,"x":-7,"y":7.6},{"i":35,"c":-1.1,"x":7,"y":7.6},
{"i":36,"c":-1.1,"x":-7.5,"y":6.2},{"i":36,"c":-1.1,"x":-6,"y":6.6},{"i":36,"c":-1.1,"x":5,"y":6.6},{"i":36,"c":-1.1,"x":6.5,"y":6},
{"i":37,"c":-1,"x":-4.8,"y":4.8},{"i":37,"c":-1,"x":-4.2,"y":5},{"i":37,"c":-1,"x":4,"y":5},{"i":37,"c":-1,"x":5.5,"y":4.6},
{"i":38,"c":-1,"x":-4,"y":4.4},{"i":38,"c":-1,"x":4.2,"y":4.4},
{"i":39,"c":-1,"x":-3,"y":3},{"i":39,"c":-1,"x":-2,"y":3.2},{"i":39,"c":-1,"x":2,"y":3.1},{"i":39,"c":-1,"x":3.4,"y":2.6},
{"i":40,"c":-1,"x":-2,"y":2.3},{"i":40,"c":-1,"x":0,"y":1.9},{"i":40,"c":-1,"x":2,"y":1.6},{"i":40,"c":-1,"x":3,"y":2},
{"i":41,"c":-2.3,"x":0,"y":-0.1},{"i":41,"c":-2.3,"x":-0.3,"y":-0.8},{"i":41,"c":-2.3,"x":0.5,"y":-0.2},{"i":41,"c":-2.3,"x":1.5,"y":0.3},
{"i":50,"c":-2.6,"x":-4.5,"y":-3},{"i":50,"c":-2.6,"x":-2,"y":-2.7},{"i":50,"c":-2.6,"x":1,"y":-2.5},{"i":50,"c":-2.6,"x":2.8,"y":-2.7},
{"i":51,"c":-2.8,"x":-4,"y":-3.6},{"i":51,"c":-2.8,"x":3,"y":-3.6},
{"i":52,"c":-2.9,"x":-3,"y":-5.2},{"i":52,"c":-2.9,"x":0,"y":-5.2},
{"i":53,"c":-2.9,"x":2,"y":-5.2},{"i":53,"c":-2.9,"x":5,"y":-5.1},
{"i":54,"c":-2.8,"x":-5.5,"y":-5.5},{"i":54,"c":-2.8,"x":-4,"y":-5.9},{"i":54,"c":-2.8,"x":5.5,"y":-5.8},
{"i":55,"c":-2.9,"x":-6.5,"y":-7},{"i":55,"c":-2.9,"x":-5,"y":-7.1},{"i":55,"c":-2.9,"x":6,"y":-7.1},{"i":55,"c":-2.9,"x":7,"y":-6.9},
{"i":56,"c":-2.9,"x":-7,"y":-8},{"i":56,"c":-2.9,"x":7.5,"y":-8.1},
{"i":57,"c":-2.9,"x":-8,"y":-10.2},{"i":57,"c":-2.9,"x":8,"y":-10.2},{"i":57,"c":-2.9,"x":10,"y":-10},
{"i":58,"c":-2.9,"x":-11,"y":-11.5},{"i":58,"c":-2.9,"x":-10,"y":-12},{"i":58,"c":-2.9,"x":10,"y":-12},{"i":58,"c":-2.9,"x":11,"y":-11.6},
{"i":59,"c":-2.8,"x":-13,"y":-13},{"i":59,"c":-2.8,"x":-12,"y":-13.5},{"i":59,"c":-2.8,"x":12.5,"y":-13.6},
{"i":60,"c":-2.7,"x":-14,"y":-14.1},{"i":60,"c":-2.7,"x":-13,"y":-14.4},{"i":60,"c":-2.7,"x":14,"y":-14.4},{"i":60,"c":-2.7,"x":15,"y":-14.1}],
"fa":[{"x":-2.6,"y":12.7,"a":90,"c":-1.2},{"x":0.4,"y":11.8,"a":90,"c":-1.2},{"x":-2.6,"y":7.6,"a":90,"c":-1.2},{"x":-1.3,"y":4.4,"a":90,"c":-1.1},{"x":1.1,"y":1.7,"a":100,"c":-1.1},{"x":16.6,"y":11.4,"a":160,"c":1.1},{"x":16.2,"y":10.3,"a":160,"c":1},{"x":12.1,"y":8.9,"a":130,"c":0.6},{"x":9.1,"y":9.7,"a":100,"c":0.2},{"x":17.3,"y":6.2,"a":175,"c":0.9},{"x":13.2,"y":4.3,"a":175,"c":0.7},{"x":16,"y":4.3,"a":175,"c":0.9},{"x":6.5,"y":5.6,"a":120,"c":-0.1},{"x":13.7,"y":-2.8,"a":195,"c":0.7},{"x":16.5,"y":-2.8,"a":190,"c":0.9},{"x":10.2,"y":-4.6,"a":215,"c":0.5},{"x":17.2,"y":-9.7,"a":215,"c":1},{"x":3.6,"y":-0.8,"a":200,"c":-0.9},{"x":1.3,"y":-2.5,"a":270,"c":-2.7},{"x":-1.4,"y":-3.6,"a":270,"c":-2.8},{"x":-2.7,"y":-5.2,"a":270,"c":-2.9},{"x":-0.2,"y":-5.9,"a":270,"c":-2.9},{"x":-2.4,"y":-8,"a":270,"c":-2.9},{"x":4.3,"y":-10.1,"a":270,"c":-2.9},{"x":-3.5,"y":-13.6,"a":270,"c":-2.8},{"x":-3.3,"y":-14.5,"a":270,"c":-2.7},{"x":-17,"y":-13.6,"a":325,"c":0.8},{"x":-14.3,"y":-10.5,"a":325,"c":0.55},{"x":-13.4,"y":-10.2,"a":325,"c":0.45},{"x":-12.5,"y":-9,"a":335,"c":0.3},{"x":-13.4,"y":-4.7,"a":350,"c":0.25},{"x":-13,"y":-3.2,"a":355,"c":0.2},{"x":-18.8,"y":-0.5,"a":0,"c":0.6},{"x":-19.3,"y":2.3,"a":5,"c":0.7},{"x":-10.5,"y":-0.5,"a":0,"c":-0.3},{"x":-9.8,"y":4,"a":20,"c":0},{"x":-13.2,"y":5.2,"a":15,"c":0.3},{"x":-17.8,"y":8.2,"a":25,"c":0.6},{"x":-17.8,"y":10.1,"a":35,"c":0.7},{"x":-19.1,"y":10.4,"a":35,"c":0.7},{"x":-3.5,"y":2.1,"a":75,"c":-1.8},{"x":-4,"y":-0.9,"a":180,"c":-2.4},{"x":0,"y":-0.1,"a":240,"c":-2.5}],
"rf":[{"i":1,"c":-2.4,"x":-4.7,"y":0},{"i":1,"c":-2.4,"x":-4,"y":0.7},{"i":1,"c":-2.4,"x":-3.3,"y":0},{"i":1,"c":-2.4,"x":-4,"y":-0.7},{"i":1,"c":-2.4,"x":-4.7,"y":0},
{"i":2,"c":-2.1,"x":-3.7,"y":-2.2},{"i":2,"c":-2.1,"x":-5.6,"y":-1.3},{"i":2,"c":-2.1,"x":-6.2,"y":0},{"i":2,"c":-2.1,"x":-5.6,"y":1.5},{"i":2,"c":-2.1,"x":-4,"y":2.2},{"i":2,"c":-2.1,"x":-2.4,"y":1.3},{"i":2,"c":-2.1,"x":-1.9,"y":0},{"i":2,"c":-2.1,"x":-2.5,"y":-1.5},{"i":2,"c":-2.1,"x":-3.7,"y":-2.2},
{"i":3,"c":-1.4,"x":-7.8,"y":-1},{"i":3,"c":-1.4,"x":-7.4,"y":1.7},{"i":3,"c":-1.4,"x":-5,"y":3.1},{"i":3,"c":-1.4,"x":-3.7,"y":3.6},{"i":3,"c":-1.4,"x":-1,"y":2.6},{"i":3,"c":-1.4,"x":1.7,"y":1.7},{"i":3,"c":-1.4,"x":3.5,"y":2.3},
{"i":4,"c":-1.3,"x":-7.7,"y":-2.2},{"i":4,"c":-1.3,"x":-6.5,"y":-3},{"i":4,"c":-1.3,"x":-4,"y":-3.4},{"i":4,"c":-1.3,"x":-2.5,"y":-3.4},
{"i":5,"c":-1,"x":-9.2,"y":-1.5},{"i":5,"c":-1,"x":-9.3,"y":0},{"i":5,"c":-1,"x":-8.5,"y":3},{"i":5,"c":-1,"x":-6,"y":4.7},{"i":5,"c":-1,"x":-3.1,"y":5},{"i":5,"c":-1,"x":0,"y":4.2},{"i":5,"c":-1,"x":2,"y":3.4},{"i":5,"c":-1,"x":3.7,"y":2.6},
{"i":6,"c":-0.5,"x":-7,"y":-5.5},{"i":6,"c":-0.5,"x":-9.5,"y":-3.5},{"i":6,"c":-0.5,"x":-10.5,"y":-1},{"i":6,"c":-0.5,"x":-10.3,"y":2},{"i":6,"c":-0.5,"x":-8.5,"y":5},{"i":6,"c":-0.5,"x":-5,"y":6.3},{"i":6,"c":-0.5,"x":0,"y":5.7},{"i":6,"c":-0.5,"x":4,"y":4.6},{"i":6,"c":-0.5,"x":7,"y":3.5},{"i":6,"c":-0.5,"x":8.3,"y":1},{"i":6,"c":-0.5,"x":7.5,"y":-1.5},{"i":6,"c":-0.5,"x":5.5,"y":-3},{"i":6,"c":-0.5,"x":3.5,"y":-3.5},
{"i":7,"c":-0.2,"x":-8.5,"y":-7.5},{"i":7,"c":-0.2,"x":-11.5,"y":-5},{"i":7,"c":-0.2,"x":-13.4,"y":-1.8},{"i":7,"c":-0.2,"x":-13.6,"y":1.5},{"i":7,"c":-0.2,"x":-13,"y":4.5},{"i":7,"c":-0.2,"x":-11,"y":6.6},{"i":7,"c":-0.2,"x":-6,"y":7.4},{"i":7,"c":-0.2,"x":0,"y":7.2},{"i":7,"c":-0.2,"x":4,"y":6.5},
{"i":8,"c":0.1,"x":-10,"y":-9.3},{"i":8,"c":0.1,"x":-13.5,"y":-6.5},{"i":8,"c":0.1,"x":-15.5,"y":-3},{"i":8,"c":0.1,"x":-15.8,"y":-0.7},{"i":8,"c":0.1,"x":-15.5,"y":2},{"i":8,"c":0.1,"x":-14.2,"y":5},{"i":8,"c":0.1,"x":-12,"y":7},
{"i":9,"c":0.5,"x":-13.5,"y":-13},{"i":9,"c":0.5,"x":-16,"y":-9},{"i":9,"c":0.5,"x":-18,"y":-4},{"i":9,"c":0.5,"x":-18.5,"y":2.4},{"i":9,"c":0.5,"x":-17.5,"y":6},
{"i":10,"c":0.35,"x":-12,"y":-10.8},{"i":10,"c":0.35,"x":-14.2,"y":-7.7},{"i":10,"c":0.35,"x":-16,"y":-4},{"i":10,"c":0.35,"x":-17,"y":-0.5},
{"i":11,"c":0.7,"x":-14.3,"y":-15},{"i":11,"c":0.7,"x":-17,"y":-11.5},{"i":11,"c":0.7,"x":-19,"y":-6},{"i":11,"c":0.7,"x":-19.7,"y":0},{"i":11,"c":0.7,"x":-19.3,"y":4.2},
{"i":12,"c":0.9,"x":-19.5,"y":-11.5},{"i":12,"c":0.9,"x":-17.2,"y":-13.7},{"i":12,"c":0.9,"x":-15.5,"y":-15.2},
{"i":13,"c":-1,"x":-19.3,"y":6.4},{"i":13,"c":-1,"x":-16.4,"y":8.3},{"i":13,"c":-1,"x":-12.7,"y":9},
{"i":14,"c":-0.9,"x":3.5,"y":-0.9},{"i":14,"c":-0.9,"x":3,"y":0},{"i":14,"c":-0.9,"x":3.6,"y":0.5},{"i":14,"c":-0.9,"x":4.1,"y":-0.2},
{"i":15,"c":-0.9,"x":2.6,"y":-2.6},{"i":15,"c":-0.9,"x":5.7,"y":-1.8},{"i":15,"c":-0.9,"x":6,"y":0.4},{"i":15,"c":-0.9,"x":3.7,"y":1.9},{"i":15,"c":-0.9,"x":2,"y":0.4},{"i":15,"c":-0.9,"x":2.5,"y":-1},{"i":15,"c":-0.9,"x":3.5,"y":-1.5},
{"i":16,"c":-2.2,"x":-0.2,"y":-0.4},{"i":16,"c":-2.2,"x":0.2,"y":-1.4},{"i":16,"c":-2.2,"x":1,"y":-2},
{"i":17,"c":0.2,"x":7,"y":6.3},{"i":17,"c":0.2,"x":8.2,"y":5.5},{"i":17,"c":0.2,"x":10.9,"y":3},{"i":17,"c":0.2,"x":11,"y":0.4},{"i":17,"c":0.2,"x":10.5,"y":-2.2},{"i":17,"c":0.2,"x":8.2,"y":-3.9},{"i":17,"c":0.2,"x":5.4,"y":-4.3},
{"i":18,"c":0.4,"x":10.8,"y":6.3},{"i":18,"c":0.4,"x":12.3,"y":3.2},{"i":18,"c":0.4,"x":12.7,"y":1.2},{"i":18,"c":0.4,"x":12.5,"y":-0.5},
{"i":19,"c":0.5,"x":12.5,"y":-1.5},{"i":19,"c":0.5,"x":11,"y":-3.5},{"i":19,"c":0.5,"x":10.3,"y":-4.6},{"i":19,"c":0.5,"x":7,"y":-6.5},
{"i":20,"c":0.4,"x":6.8,"y":7.9},{"i":20,"c":0.4,"x":11,"y":7},{"i":20,"c":0.4,"x":13.7,"y":5.7},{"i":20,"c":0.4,"x":15,"y":3},{"i":20,"c":0.4,"x":15.3,"y":0},{"i":20,"c":0.4,"x":14.8,"y":-3},{"i":20,"c":0.4,"x":12.5,"y":-6},{"i":20,"c":0.4,"x":9,"y":-8},
{"i":21,"c":0.6,"x":15,"y":6},{"i":21,"c":0.6,"x":16.3,"y":3.2},{"i":21,"c":0.6,"x":16.6,"y":0},
{"i":22,"c":0.9,"x":18.5,"y":-1.5},{"i":22,"c":0.9,"x":16.5,"y":-3.8},{"i":22,"c":0.9,"x":14.5,"y":-7},{"i":22,"c":0.9,"x":11,"y":-9.5},
{"i":23,"c":1.1,"x":18.5,"y":-6},{"i":23,"c":1.1,"x":17,"y":-9.8},{"i":23,"c":1.1,"x":14,"y":-12},{"i":23,"c":1.1,"x":11,"y":-13.5},
{"i":24,"c":1.2,"x":15.3,"y":-11.5},{"i":24,"c":1.2,"x":17.9,"y":-11},{"i":24,"c":1.2,"x":18.3,"y":-8.5},
{"i":25,"c":0.5,"x":11.5,"y":7.2},{"i":25,"c":0.5,"x":14,"y":5.7},{"i":25,"c":0.5,"x":16,"y":3.8},{"i":25,"c":0.5,"x":17.5,"y":1.5},{"i":25,"c":0.5,"x":18,"y":-1},
{"i":30,"c":-1.2,"x":-18.5,"y":12.3},{"i":30,"c":-1.2,"x":-9,"y":12.7},{"i":30,"c":-1.2,"x":1,"y":12.5},
{"i":31,"c":-1.2,"x":2.5,"y":12.8},{"i":31,"c":-1.2,"x":6.5,"y":12.7},
{"i":32,"c":-1.2,"x":8,"y":12.8},{"i":32,"c":-1.2,"x":12,"y":12.5},
{"i":33,"c":-1.2,"x":14.5,"y":12.7},{"i":33,"c":-1.2,"x":18,"y":12.4},
{"i":34,"c":-1.2,"x":-19.7,"y":11.4},{"i":34,"c":-1.2,"x":-10,"y":12},{"i":34,"c":-1.2,"x":0,"y":12.1},{"i":34,"c":-1.2,"x":10,"y":11.9},{"i":34,"c":-1.2,"x":18.5,"y":11.6},
{"i":35,"c":-1.2,"x":-19,"y":10.7},{"i":35,"c":-1.2,"x":-10,"y":11},{"i":35,"c":-1.2,"x":0,"y":11},{"i":35,"c":-1.2,"x":10,"y":10.7},{"i":35,"c":-1.2,"x":18.5,"y":10.3},
{"i":36,"c":-1.2,"x":-19.3,"y":8.6},{"i":36,"c":-1.2,"x":-12,"y":9.8},{"i":36,"c":-1.2,"x":-3,"y":10.1},{"i":36,"c":-1.2,"x":5,"y":10},{"i":36,"c":-1.2,"x":12,"y":9.6},{"i":36,"c":-1.2,"x":18.5,"y":8.9},
{"i":37,"c":-1.1,"x":-11.8,"y":8.7},{"i":37,"c":-1.1,"x":-4,"y":9.3},{"i":37,"c":-1.1,"x":5.6,"y":8.7},{"i":37,"c":-1.1,"x":8.2,"y":7.9},
{"i":38,"c":-1,"x":12.8,"y":8.7},{"i":38,"c":-1,"x":15.3,"y":8.3},{"i":38,"c":-1,"x":17.3,"y":7.9},
{"i":39,"c":-0.8,"x":7,"y":8},{"i":39,"c":-0.8,"x":10,"y":7.2},{"i":39,"c":-0.8,"x":13,"y":7.8},
{"i":50,"c":-2.6,"x":-2.8,"y":-2.8},{"i":50,"c":-2.6,"x":0,"y":-2.3},{"i":50,"c":-2.6,"x":2,"y":-2.6},
{"i":51,"c":-2.7,"x":-3.5,"y":-3.3},{"i":51,"c":-2.7,"x":3.3,"y":-3.4},
{"i":52,"c":-2.9,"x":-4.8,"y":-5},{"i":52,"c":-2.9,"x":5,"y":-5},
{"i":53,"c":-2.9,"x":-4,"y":-5.9},{"i":53,"c":-2.9,"x":5.5,"y":-6},
{"i":54,"c":-2.9,"x":-6,"y":-7.4},{"i":54,"c":-2.9,"x":6,"y":-7.4},
{"i":55,"c":-2.9,"x":-7.3,"y":-8.1},{"i":55,"c":-2.9,"x":7.5,"y":-8.2},
{"i":56,"c":-2.9,"x":-8.5,"y":-9},{"i":56,"c":-2.9,"x":9,"y":-9},
{"i":57,"c":-2.9,"x":-9.5,"y":-10.4},{"i":57,"c":-2.9,"x":12,"y":-10.4},
{"i":58,"c":-2.8,"x":-11,"y":-11.5},{"i":58,"c":-2.8,"x":11,"y":-11.5},
{"i":59,"c":-2.8,"x":-11.5,"y":-12.4},{"i":59,"c":-2.8,"x":12.5,"y":-12.3},
{"i":60,"c":-2.7,"x":-13,"y":-13.6},{"i":60,"c":-2.7,"x":15,"y":-13.6},
{"i":61,"c":-2.6,"x":-14,"y":-14.4},{"i":61,"c":-2.6,"x":16,"y":-14.4}],
"ra":[{"x":-9.5,"y":12.7,"a":90,"c":-1.2},{"x":-0.9,"y":12.1,"a":90,"c":-1.2},{"x":-0.9,"y":11,"a":90,"c":-1.2},{"x":-1.1,"y":10,"a":90,"c":-1.2},{"x":4,"y":12.8,"a":90,"c":-1.2},{"x":9.4,"y":12.8,"a":90,"c":-1.2},{"x":16.5,"y":12.7,"a":90,"c":-1.2},{"x":-16.4,"y":8.3,"a":70,"c":-1},{"x":5.6,"y":8.7,"a":95,"c":-1},{"x":15.3,"y":8.3,"a":110,"c":-1},{"x":-3.1,"y":5,"a":90,"c":-1},{"x":-3.7,"y":3.6,"a":80,"c":-1.2},{"x":-4,"y":2.2,"a":60,"c":-1.9},{"x":-19.3,"y":4.2,"a":15,"c":0.4},{"x":-18.5,"y":2.4,"a":0,"c":0.5},{"x":-13.6,"y":4.2,"a":20,"c":0.3},{"x":-10.1,"y":3.7,"a":30,"c":0.1},{"x":-15.8,"y":-0.7,"a":0,"c":0.4},{"x":-13.4,"y":-1.8,"a":0,"c":0.2},{"x":-10.5,"y":-1,"a":0,"c":0},{"x":-8.7,"y":-1,"a":0,"c":-0.4},{"x":-14.2,"y":-7.7,"a":345,"c":0.4},{"x":-17.2,"y":-13.7,"a":330,"c":0.8},{"x":13.7,"y":5.7,"a":130,"c":0.3},{"x":13.7,"y":3.2,"a":180,"c":0.5},{"x":16.3,"y":3.2,"a":180,"c":0.6},{"x":10.9,"y":3,"a":180,"c":0.3},{"x":12.7,"y":1.2,"a":180,"c":0.4},{"x":16.5,"y":-3.8,"a":190,"c":0.9},{"x":10.3,"y":-4.6,"a":215,"c":0.6},{"x":17,"y":-9.8,"a":215,"c":1.1},{"x":17.9,"y":-11,"a":215,"c":1.2},{"x":3.6,"y":-0.8,"a":180,"c":-0.8},{"x":0,"y":-2.3,"a":285,"c":-2.5},{"x":-2,"y":-3.3,"a":270,"c":-2.7},{"x":1.1,"y":-5,"a":270,"c":-2.9},{"x":1.1,"y":-5.9,"a":270,"c":-2.9},{"x":4.5,"y":-8.2,"a":270,"c":-2.9},{"x":4.4,"y":-10.4,"a":270,"c":-2.9},{"x":-3.7,"y":-12.3,"a":270,"c":-2.8},{"x":-4.8,"y":-13.6,"a":270,"c":-2.8},{"x":-1.9,"y":-14.4,"a":270,"c":-2.7},{"x":-3.7,"y":-1,"a":180,"c":-2.3},{"x":0.2,"y":-1.4,"a":150,"c":-2.2}],
"tr":[{"r":"red","x":-30,"y":30,"y2":-30},{"r":"red","x":0,"y":0,"y2":0},{"r":"blue","x":-30,"y":30,"y2":30},{"r":"blue","x":0,"y":30,"y2":0},{"r":"blue","x":30,"y":30,"y2":30},{"r":"green","x":0,"y":0,"y2":0},{"r":"green","x":30,"y":30,"y2":-30},{"r":"orange","x":-30,"y":-30,"y2":-30},{"r":"orange","x":0,"y":0,"y2":-30},{"r":"orange","x":30,"y":-30,"y2":-30}],
"rr":[{"r":"blue","x":-30,"y":30,"y2":5.8},{"r":"blue","x":30,"y":30,"y2":5.8},{"r":"green","x":-30,"y":5.8,"y2":-30.5},{"r":"green","x":0,"y":5.8,"y2":-0.8},{"r":"green","x":5,"y":5.8,"y2":5.8},{"r":"orange","x":-30,"y":-30.5,"y2":-40},{"r":"orange","x":0,"y":-0.8,"y2":-40},{"r":"orange","x":30,"y":-22.4,"y2":-40},{"r":"red","x":0,"y":-0.8,"y2":-0.8},{"r":"red","x":5,"y":5.8,"y2":-4.4},{"r":"red","x":30,"y":5.8,"y2":-22.4}],
"tb":[{"i":1,"x":0,"y":0},{"i":1,"x":-20,"y":20},{"i":2,"x":0,"y":0},{"i":2,"x":20,"y":20},{"i":3,"x":0,"y":0},{"i":3,"x":-20,"y":-20},{"i":4,"x":0,"y":0},{"i":4,"x":20,"y":-20}],
"rb":[{"i":1,"x":0,"y":-0.8},{"i":1,"x":-15,"y":-15.7},{"i":2,"x":0,"y":-0.8},{"i":2,"x":21,"y":-16},{"i":3,"x":0,"y":-0.8},{"i":3,"x":5,"y":5.8}],
"rband":[{"i":1,"x":-21,"y":5.8},{"i":1,"x":5,"y":5.8},{"i":1,"x":21,"y":5.4}],
"k":[{"m":"rSLDS","k":0,"v":0.995},{"m":"rSLDS","k":1,"v":0.99},{"m":"rSLDS","k":2,"v":0.985},{"m":"rSLDS","k":3,"v":0.985},{"m":"rSLDS","k":4,"v":0.98},{"m":"rSLDS","k":5,"v":0.98},{"m":"rSLDS","k":6,"v":0.98},{"m":"rSLDS","k":7,"v":0.98},{"m":"rSLDS","k":8,"v":0.985},{"m":"rSLDS","k":9,"v":0.985},{"m":"rSLDS","k":10,"v":0.98},{"m":"rSLDS","k":11,"v":0.97},{"m":"rSLDS","k":12,"v":0.96},{"m":"rSLDS","k":13,"v":0.945},{"m":"rSLDS","k":14,"v":0.935},{"m":"rSLDS","k":15,"v":0.93},{"m":"rSLDS","k":16,"v":0.925},{"m":"rSLDS","k":17,"v":0.925},{"m":"rSLDS","k":18,"v":0.93},{"m":"rSLDS","k":19,"v":0.93},{"m":"rSLDS","k":20,"v":0.935},{"m":"rSLDS","k":21,"v":0.935},{"m":"rSLDS","k":22,"v":0.94},{"m":"rSLDS","k":23,"v":0.945},{"m":"rSLDS","k":24,"v":0.945},{"m":"rSLDS","k":25,"v":0.95},{"m":"rSLDS","k":26,"v":0.955},{"m":"rSLDS","k":27,"v":0.96},{"m":"rSLDS","k":28,"v":0.955},{"m":"rSLDS","k":29,"v":0.945},{"m":"rSLDS","k":30,"v":0.93},{"m":"rSLDS","k":31,"v":0.905},{"m":"rSLDS","k":32,"v":0.88},{"m":"rSLDS","k":33,"v":0.845},{"m":"rSLDS","k":34,"v":0.8},{"m":"rSLDS","k":35,"v":0.76},{"m":"rSLDS","k":36,"v":0.725},{"m":"rSLDS","k":37,"v":0.72},{"m":"rSLDS","k":38,"v":0.715},{"m":"rSLDS","k":39,"v":0.71},{"m":"rSLDS","k":40,"v":0.708},{"m":"rSLDS","k":41,"v":0.702},{"m":"rSLDS","k":42,"v":0.698},{"m":"rSLDS","k":43,"v":0.695},{"m":"rSLDS","k":44,"v":0.693},{"m":"rSLDS","k":45,"v":0.69},{"m":"rSLDS","k":46,"v":0.69},{"m":"rSLDS","k":47,"v":0.69},{"m":"rSLDS","k":48,"v":0.69},{"m":"rSLDS","k":49,"v":0.69},{"m":"rSLDS","k":50,"v":0.69},{"m":"rSLDS","k":51,"v":0.692},{"m":"rSLDS","k":52,"v":0.694},{"m":"rSLDS","k":53,"v":0.695},{"m":"rSLDS","k":54,"v":0.695},{"m":"rSLDS","k":55,"v":0.693},{"m":"rSLDS","k":56,"v":0.69},{"m":"rSLDS","k":57,"v":0.687},{"m":"rSLDS","k":58,"v":0.683},{"m":"rSLDS","k":59,"v":0.68},{"m":"rSLDS","k":60,"v":0.672},{"m":"rSLDS","k":61,"v":0.655},{"m":"rSLDS","k":62,"v":0.63},{"m":"rSLDS","k":63,"v":0.603},{"m":"rSLDS","k":64,"v":0.566},{"m":"rSLDS","k":65,"v":0.518},{"m":"rSLDS","k":66,"v":0.458},{"m":"rSLDS","k":67,"v":0.386},{"m":"rSLDS","k":68,"v":0.344},{"m":"rSLDS","k":69,"v":0.293},{"m":"rSLDS","k":70,"v":0.241},{"m":"rSLDS","k":71,"v":0.187},{"m":"rSLDS","k":72,"v":0.127},{"m":"rSLDS","k":73,"v":0.122},{"m":"rSLDS","k":74,"v":0.115},{"m":"rSLDS","k":75,"v":0.112},{"m":"rSLDS","k":76,"v":0.105},{"m":"rSLDS","k":77,"v":0.1},{"m":"rSLDS","k":78,"v":0.095},{"m":"rSLDS","k":79,"v":0.092},{"m":"rSLDS","k":80,"v":0.088},{"m":"rSLDS","k":81,"v":0.085},{"m":"rSLDS","k":82,"v":0.084},{"m":"rSLDS","k":83,"v":0.082},{"m":"rSLDS","k":84,"v":0.081},{"m":"rSLDS","k":85,"v":0.08},{"m":"rSLDS","k":86,"v":0.076},{"m":"rSLDS","k":87,"v":0.066},{"m":"rSLDS","k":88,"v":0.06},{"m":"rSLDS","k":89,"v":0.055},{"m":"rSLDS","k":90,"v":0.054},{"m":"rSLDS","k":91,"v":0.054},{"m":"rSLDS","k":92,"v":0.048},{"m":"rSLDS","k":93,"v":0.045},{"m":"rSLDS","k":94,"v":0.047},{"m":"rSLDS","k":95,"v":0.053},{"m":"rSLDS","k":96,"v":0.06},{"m":"rSLDS","k":97,"v":0.065},{"m":"rSLDS","k":98,"v":0.06},{"m":"rSLDS","k":99,"v":0.052},{"m":"rSLDS","k":100,"v":0.046},
{"m":"TrSLDS","k":0,"v":0.998},{"m":"TrSLDS","k":1,"v":0.998},{"m":"TrSLDS","k":2,"v":0.998},{"m":"TrSLDS","k":3,"v":0.997},{"m":"TrSLDS","k":4,"v":0.997},{"m":"TrSLDS","k":5,"v":0.997},{"m":"TrSLDS","k":6,"v":0.996},{"m":"TrSLDS","k":7,"v":0.996},{"m":"TrSLDS","k":8,"v":0.996},{"m":"TrSLDS","k":9,"v":0.995},{"m":"TrSLDS","k":10,"v":0.995},{"m":"TrSLDS","k":11,"v":0.993},{"m":"TrSLDS","k":12,"v":0.99},{"m":"TrSLDS","k":13,"v":0.988},{"m":"TrSLDS","k":14,"v":0.986},{"m":"TrSLDS","k":15,"v":0.985},{"m":"TrSLDS","k":16,"v":0.984},{"m":"TrSLDS","k":17,"v":0.983},{"m":"TrSLDS","k":18,"v":0.982},{"m":"TrSLDS","k":19,"v":0.981},{"m":"TrSLDS","k":20,"v":0.98},{"m":"TrSLDS","k":21,"v":0.98},{"m":"TrSLDS","k":22,"v":0.98},{"m":"TrSLDS","k":23,"v":0.98},{"m":"TrSLDS","k":24,"v":0.98},{"m":"TrSLDS","k":25,"v":0.98},{"m":"TrSLDS","k":26,"v":0.978},{"m":"TrSLDS","k":27,"v":0.975},{"m":"TrSLDS","k":28,"v":0.965},{"m":"TrSLDS","k":29,"v":0.95},{"m":"TrSLDS","k":30,"v":0.93},{"m":"TrSLDS","k":31,"v":0.905},{"m":"TrSLDS","k":32,"v":0.87},{"m":"TrSLDS","k":33,"v":0.84},{"m":"TrSLDS","k":34,"v":0.81},{"m":"TrSLDS","k":35,"v":0.78},{"m":"TrSLDS","k":36,"v":0.755},{"m":"TrSLDS","k":37,"v":0.745},{"m":"TrSLDS","k":38,"v":0.75},{"m":"TrSLDS","k":39,"v":0.755},{"m":"TrSLDS","k":40,"v":0.765},{"m":"TrSLDS","k":41,"v":0.78},{"m":"TrSLDS","k":42,"v":0.795},{"m":"TrSLDS","k":43,"v":0.815},{"m":"TrSLDS","k":44,"v":0.84},{"m":"TrSLDS","k":45,"v":0.86},{"m":"TrSLDS","k":46,"v":0.875},{"m":"TrSLDS","k":47,"v":0.89},{"m":"TrSLDS","k":48,"v":0.905},{"m":"TrSLDS","k":49,"v":0.915},{"m":"TrSLDS","k":50,"v":0.92},{"m":"TrSLDS","k":51,"v":0.925},{"m":"TrSLDS","k":52,"v":0.925},{"m":"TrSLDS","k":53,"v":0.925},{"m":"TrSLDS","k":54,"v":0.925},{"m":"TrSLDS","k":55,"v":0.92},{"m":"TrSLDS","k":56,"v":0.92},{"m":"TrSLDS","k":57,"v":0.925},{"m":"TrSLDS","k":58,"v":0.93},{"m":"TrSLDS","k":59,"v":0.925},{"m":"TrSLDS","k":60,"v":0.92},{"m":"TrSLDS","k":61,"v":0.91},{"m":"TrSLDS","k":62,"v":0.895},{"m":"TrSLDS","k":63,"v":0.875},{"m":"TrSLDS","k":64,"v":0.84},{"m":"TrSLDS","k":65,"v":0.8},{"m":"TrSLDS","k":66,"v":0.76},{"m":"TrSLDS","k":67,"v":0.72},{"m":"TrSLDS","k":68,"v":0.69},{"m":"TrSLDS","k":69,"v":0.655},{"m":"TrSLDS","k":70,"v":0.62},{"m":"TrSLDS","k":71,"v":0.595},{"m":"TrSLDS","k":72,"v":0.57},{"m":"TrSLDS","k":73,"v":0.565},{"m":"TrSLDS","k":74,"v":0.565},{"m":"TrSLDS","k":75,"v":0.565},{"m":"TrSLDS","k":76,"v":0.565},{"m":"TrSLDS","k":77,"v":0.565},{"m":"TrSLDS","k":78,"v":0.57},{"m":"TrSLDS","k":79,"v":0.57},{"m":"TrSLDS","k":80,"v":0.575},{"m":"TrSLDS","k":81,"v":0.58},{"m":"TrSLDS","k":82,"v":0.59},{"m":"TrSLDS","k":83,"v":0.605},{"m":"TrSLDS","k":84,"v":0.625},{"m":"TrSLDS","k":85,"v":0.645},{"m":"TrSLDS","k":86,"v":0.665},{"m":"TrSLDS","k":87,"v":0.68},{"m":"TrSLDS","k":88,"v":0.695},{"m":"TrSLDS","k":89,"v":0.71},{"m":"TrSLDS","k":90,"v":0.725},{"m":"TrSLDS","k":91,"v":0.74},{"m":"TrSLDS","k":92,"v":0.75},{"m":"TrSLDS","k":93,"v":0.76},{"m":"TrSLDS","k":94,"v":0.77},{"m":"TrSLDS","k":95,"v":0.78},{"m":"TrSLDS","k":96,"v":0.79},{"m":"TrSLDS","k":97,"v":0.8},{"m":"TrSLDS","k":98,"v":0.81},{"m":"TrSLDS","k":99,"v":0.82},{"m":"TrSLDS","k":100,"v":0.83}]
},
"spacing":3,"resolve":{"scale":{"color":"independent","fill":"independent","stroke":"independent"},"legend":{"color":"independent","fill":"independent","stroke":"independent"}},
"vconcat":[
{"bounds":"flush","spacing":58,"resolve":{"scale":{"color":"independent","fill":"independent","stroke":"independent"},"legend":{"color":"independent","fill":"independent","stroke":"independent"}},"hconcat":[
{"title":"True Latent States","width":293,"height":223,"encoding":{"x":{"field":"x","type":"quantitative","scale":{"domain":[-19.5,20.3],"nice":false,"zero":false},"axis":{"values":[-15,-10,-5,0,5,10,15,20],"title":"x₁"}},"y":{"field":"y","type":"quantitative","scale":{"domain":[-15.2,13.4],"nice":false,"zero":false},"axis":{"values":[-15,-10,-5,0,5,10],"title":"x₂"}},"detail":{"field":"i"},"order":{"value":null}},
"layer":[{"data":{"name":"red"},"transform":[{"filter":"datum.i<20"}],"mark":{"type":"line","interpolate":"cardinal","stroke":"#e50000","strokeWidth":2.6,"clip":true}},{"data":{"name":"red"},"transform":[{"filter":"datum.i>=20"}],"mark":{"type":"line","interpolate":"cardinal","stroke":"#e50000","strokeWidth":1.3,"clip":true}},{"data":{"name":"blue"},"transform":[{"filter":"datum.i<20"}],"mark":{"type":"line","stroke":"#3778bf","strokeWidth":2.6,"clip":true}},{"data":{"name":"blue"},"transform":[{"filter":"datum.i>=20"}],"mark":{"type":"line","stroke":"#3778bf","strokeWidth":1.4,"clip":true}},{"data":{"name":"orange"},"transform":[{"filter":"datum.i<18"}],"mark":{"type":"line","stroke":"#f97306","strokeWidth":2.6,"clip":true}},{"data":{"name":"orange"},"transform":[{"filter":"datum.i>=18"}],"mark":{"type":"line","stroke":"#f97306","strokeWidth":1.5,"clip":true}},{"data":{"name":"green"},"transform":[{"filter":"datum.i<23"}],"mark":{"type":"line","interpolate":"cardinal","stroke":"#5ca904","strokeWidth":2.6,"clip":true}},{"data":{"name":"green"},"transform":[{"filter":"datum.i>=23"}],"mark":{"type":"line","interpolate":"cardinal","stroke":"#5ca904","strokeWidth":1.3,"clip":true}}]},
{"bounds":"flush","spacing":117,"resolve":{"scale":{"color":"independent","fill":"independent","stroke":"independent"},"legend":{"color":"independent","fill":"independent","stroke":"independent"}},"hconcat":[
{"title":"True Vector Field","width":235,"height":223,"encoding":{"x":{"field":"x","type":"quantitative","scale":{"domain":[-19.7,20.4],"nice":false,"zero":false},"axis":{"values":[-15,-10,-5,0,5,10,15,20],"title":"x₁"}},"y":{"field":"y","type":"quantitative","scale":{"domain":[-15.2,13.4],"nice":false,"zero":false},"axis":{"values":[-15,-10,-5,0,5,10],"title":"x₂"}}},
"layer":[{"data":{"name":"tr"},"mark":{"type":"area","clip":true,"opacity":1},"encoding":{"y2":{"field":"y2"},"color":{"field":"r","type":"nominal","legend":null,"scale":{"domain":["blue","red","green","orange"],"range":["#9bbbdf","#f27f7f","#add381","#fcb982"]}}}},
{"data":{"name":"field"},"mark":{"type":"line","interpolate":"cardinal","strokeWidth":1.6,"clip":true},"encoding":{"detail":{"field":"i"},"order":{"value":null},"stroke":{"field":"c","type":"quantitative","scale":{"scheme":"plasma","reverse":true,"domain":[-2.98,1.6]},"legend":{"type":"gradient","orient":"none","legendX":249,"legendY":0,"title":null,"gradientLength":223,"gradientThickness":12,"gradientStrokeColor":"#666666","gradientStrokeWidth":1.5,"values":[-2,-1,0,1],"labelFontSize":8.5,"labelColor":"#444444","labelFont":"Liberation Sans"}}}},
{"data":{"name":"fa"},"mark":{"type":"point","filled":true,"shape":"triangle-up","size":50,"opacity":1,"clip":true},"encoding":{"angle":{"field":"a","type":"quantitative","scale":null},"fill":{"field":"c","type":"quantitative","legend":null,"scale":{"scheme":"plasma","reverse":true,"domain":[-2.981,1.6]}}}}]},
{"title":"rSLDS Vector Field","width":235,"height":223,"encoding":{"x":{"field":"x","type":"quantitative","scale":{"domain":[-19.7,20.4],"nice":false,"zero":false},"axis":{"values":[-15,-10,-5,0,5,10,15,20],"title":"x₁"}},"y":{"field":"y","type":"quantitative","scale":{"domain":[-15.2,13.4],"nice":false,"zero":false},"axis":{"values":[-15,-10,-5,0,5,10],"title":"x₂"}}},
"layer":[{"data":{"name":"rr"},"mark":{"type":"area","clip":true,"opacity":1},"encoding":{"y2":{"field":"y2"},"color":{"field":"r","type":"nominal","legend":null,"scale":{"domain":["blue","red","green","orange"],"range":["#9bbbdf","#f27f7f","#add381","#fcb982"]}}}},
{"data":{"name":"rband"},"mark":{"type":"line","stroke":"white","strokeWidth":26,"opacity":0.2,"clip":true},"encoding":{"detail":{"field":"i"},"order":{"value":null}}},
{"data":{"name":"rband"},"mark":{"type":"line","stroke":"white","strokeWidth":16,"opacity":0.25,"clip":true},"encoding":{"detail":{"field":"i"},"order":{"value":null}}},
{"data":{"name":"rband"},"mark":{"type":"line","stroke":"white","strokeWidth":8,"opacity":0.3,"clip":true},"encoding":{"detail":{"field":"i"},"order":{"value":null}}},
{"data":{"name":"rb"},"mark":{"type":"line","stroke":"white","strokeWidth":3,"opacity":0.5,"clip":true},"encoding":{"detail":{"field":"i"},"order":{"value":null}}},
{"data":{"name":"rf"},"mark":{"type":"line","interpolate":"cardinal","strokeWidth":1.6,"clip":true},"encoding":{"detail":{"field":"i"},"order":{"value":null},"stroke":{"field":"c","type":"quantitative","scale":{"scheme":"plasma","reverse":true,"domain":[-2.98,1.6]},"legend":{"type":"gradient","orient":"none","legendX":249,"legendY":0,"title":null,"gradientLength":223,"gradientThickness":12,"gradientStrokeColor":"#666666","gradientStrokeWidth":1.5,"values":[-2,-1,0,1],"labelFontSize":8.5,"labelColor":"#444444","labelFont":"Liberation Sans"}}}},
{"data":{"name":"ra"},"mark":{"type":"point","filled":true,"shape":"triangle-up","size":50,"opacity":1,"clip":true},"encoding":{"angle":{"field":"a","type":"quantitative","scale":null},"fill":{"field":"c","type":"quantitative","legend":null,"scale":{"scheme":"plasma","reverse":true,"domain":[-2.981,1.6]}}}}]}
]}]},
{"bounds":"flush","spacing":58,"resolve":{"scale":{"color":"independent","fill":"independent","stroke":"independent"},"legend":{"color":"independent","fill":"independent","stroke":"independent"}},"hconcat":[
{"title":"Inferred Latent States","width":293,"height":223,"encoding":{"x":{"field":"x","type":"quantitative","scale":{"domain":[-19.5,20.3],"nice":false,"zero":false},"axis":{"values":[-15,-10,-5,0,5,10,15,20],"title":"x₁"}},"y":{"field":"y","type":"quantitative","scale":{"domain":[-15.2,13.4],"nice":false,"zero":false},"axis":{"values":[-15,-10,-5,0,5,10],"title":"x₂"}},"detail":{"field":"i"},"order":{"value":null}},
"layer":[{"data":{"name":"red"},"transform":[{"filter":"datum.i<20"}],"mark":{"type":"line","interpolate":"cardinal","stroke":"#e50000","strokeWidth":2.6,"clip":true}},{"data":{"name":"red"},"transform":[{"filter":"datum.i>=20"}],"mark":{"type":"line","interpolate":"cardinal","stroke":"#e50000","strokeWidth":1.3,"clip":true}},{"data":{"name":"blue"},"transform":[{"filter":"datum.i<20"}],"mark":{"type":"line","stroke":"#3778bf","strokeWidth":2.6,"clip":true}},{"data":{"name":"blue"},"transform":[{"filter":"datum.i>=20"}],"mark":{"type":"line","stroke":"#3778bf","strokeWidth":1.4,"clip":true}},{"data":{"name":"orange"},"transform":[{"filter":"datum.i<18"}],"mark":{"type":"line","stroke":"#f97306","strokeWidth":2.6,"clip":true}},{"data":{"name":"orange"},"transform":[{"filter":"datum.i>=18"}],"mark":{"type":"line","stroke":"#f97306","strokeWidth":1.5,"clip":true}},{"data":{"name":"green"},"transform":[{"filter":"datum.i<23"}],"mark":{"type":"line","interpolate":"cardinal","stroke":"#5ca904","strokeWidth":2.6,"clip":true}},{"data":{"name":"green"},"transform":[{"filter":"datum.i>=23"}],"mark":{"type":"line","interpolate":"cardinal","stroke":"#5ca904","strokeWidth":1.3,"clip":true}}]},
{"bounds":"flush","spacing":117,"resolve":{"scale":{"color":"independent","fill":"independent","stroke":"independent"},"legend":{"color":"independent","fill":"independent","stroke":"independent"}},"hconcat":[
{"title":"TrSLDS Vector Field","width":235,"height":223,"encoding":{"x":{"field":"x","type":"quantitative","scale":{"domain":[-19.7,20.4],"nice":false,"zero":false},"axis":{"values":[-15,-10,-5,0,5,10,15,20],"title":"x₁"}},"y":{"field":"y","type":"quantitative","scale":{"domain":[-15.2,13.4],"nice":false,"zero":false},"axis":{"values":[-15,-10,-5,0,5,10],"title":"x₂"}}},
"layer":[{"data":{"name":"tr"},"mark":{"type":"area","clip":true,"opacity":1},"encoding":{"y2":{"field":"y2"},"color":{"field":"r","type":"nominal","legend":null,"scale":{"domain":["blue","red","green","orange"],"range":["#9bbbdf","#f27f7f","#add381","#fcb982"]}}}},
{"data":{"name":"tb"},"mark":{"type":"line","stroke":"white","strokeWidth":3,"opacity":0.5,"clip":true},"encoding":{"detail":{"field":"i"},"order":{"value":null}}},
{"data":{"name":"field"},"mark":{"type":"line","interpolate":"cardinal","strokeWidth":1.6,"clip":true},"encoding":{"detail":{"field":"i"},"order":{"value":null},"stroke":{"field":"c","type":"quantitative","scale":{"scheme":"plasma","reverse":true,"domain":[-2.98,1.6]},"legend":{"type":"gradient","orient":"none","legendX":249,"legendY":0,"title":null,"gradientLength":223,"gradientThickness":12,"gradientStrokeColor":"#666666","gradientStrokeWidth":1.5,"values":[-2,-1,0,1],"labelFontSize":8.5,"labelColor":"#444444","labelFont":"Liberation Sans"}}}},
{"data":{"name":"fa"},"mark":{"type":"point","filled":true,"shape":"triangle-up","size":50,"opacity":1,"clip":true},"encoding":{"angle":{"field":"a","type":"quantitative","scale":null},"fill":{"field":"c","type":"quantitative","legend":null,"scale":{"scheme":"plasma","reverse":true,"domain":[-2.981,1.6]}}}}]},
{"title":{"text":"k-step prediction performance","offset":0},"width":294,"height":223,"data":{"name":"k"},"mark":{"type":"line","strokeWidth":1.5,"clip":true,"point":{"size":55,"filled":true,"opacity":1}},"encoding":{"x":{"field":"k","type":"quantitative","scale":{"domain":[-4.1,105.4],"nice":false,"zero":false},"axis":{"values":[0,20,40,60,80,100],"title":"prediction horizion (k-step)","titleFont":"Liberation Sans","titleFontStyle":"normal","titleFontSize":16}},"y":{"field":"v","type":"quantitative","scale":{"domain":[0,1],"nice":false},"axis":{"values":[0,0.2,0.4,0.6,0.8,1],"format":".1f","title":"R²"}},"color":{"field":"m","type":"nominal","sort":["rSLDS","TrSLDS"],"scale":{"domain":["rSLDS","TrSLDS"],"range":["#1f77b4","#ff7f0e"]},"legend":{"orient":"bottom-left","title":null,"labelFontSize":8,"labelColor":"#444444","offset":7,"labelFont":"Liberation Sans","symbolType":"M-1,0 H-0.35 A0.35,0.35 0 1,1 0.35,0 H1 M0.35,0 A0.35,0.35 0 1,1 -0.35,0 Z","symbolSize":289,"symbolStrokeWidth":1.5,"clipHeight":10,"rowPadding":2,"labelOffset":2}}}}
]}]}
]}
